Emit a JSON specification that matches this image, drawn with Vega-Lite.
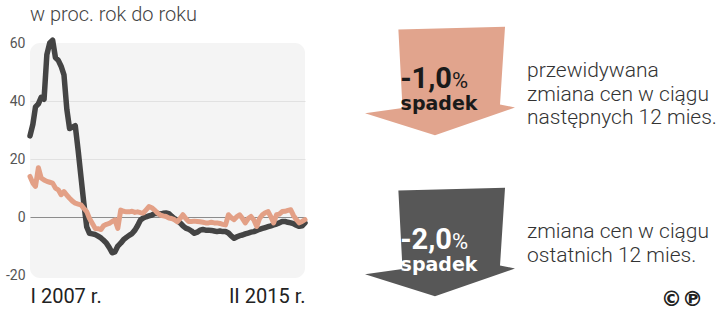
{
  "$schema": "https://vega.github.io/schema/vega-lite/v6.json",
  "background": "white",
  "padding": {"top": 5, "left": 0, "right": 0, "bottom": 0},
  "spacing": 0,
  "config": {"font": "Roboto", "view": {"stroke": null}},
  "hconcat": [
    {
      "width": 275,
      "height": 235,
      "view": {"fill": "#f4f4f4", "cornerRadius": 10, "stroke": null},
      "title": {"text": "w proc. rok do roku", "anchor": "start", "frame": "group", "fontSize": 20, "fontWeight": 300, "color": "#444444", "offset": 11, "font": "Roboto"},
      "data": {"values": [
        {"miesiac":"2007-01","seria":"ostatnie","wartosc":28},{"miesiac":"2007-02","seria":"ostatnie","wartosc":32},{"miesiac":"2007-03","seria":"ostatnie","wartosc":38},{"miesiac":"2007-04","seria":"ostatnie","wartosc":39},{"miesiac":"2007-05","seria":"ostatnie","wartosc":41.3},{"miesiac":"2007-06","seria":"ostatnie","wartosc":40.6},{"miesiac":"2007-07","seria":"ostatnie","wartosc":56},{"miesiac":"2007-08","seria":"ostatnie","wartosc":60},{"miesiac":"2007-09","seria":"ostatnie","wartosc":61},{"miesiac":"2007-10","seria":"ostatnie","wartosc":55},{"miesiac":"2007-11","seria":"ostatnie","wartosc":54},{"miesiac":"2007-12","seria":"ostatnie","wartosc":52},
        {"miesiac":"2008-01","seria":"ostatnie","wartosc":49},{"miesiac":"2008-02","seria":"ostatnie","wartosc":37},{"miesiac":"2008-03","seria":"ostatnie","wartosc":30.5},{"miesiac":"2008-04","seria":"ostatnie","wartosc":31},{"miesiac":"2008-05","seria":"ostatnie","wartosc":31.5},{"miesiac":"2008-06","seria":"ostatnie","wartosc":23},{"miesiac":"2008-07","seria":"ostatnie","wartosc":14},{"miesiac":"2008-08","seria":"ostatnie","wartosc":4.8},{"miesiac":"2008-09","seria":"ostatnie","wartosc":-3.4},{"miesiac":"2008-10","seria":"ostatnie","wartosc":-5.6},{"miesiac":"2008-11","seria":"ostatnie","wartosc":-5.8},{"miesiac":"2008-12","seria":"ostatnie","wartosc":-6},
        {"miesiac":"2009-01","seria":"ostatnie","wartosc":-6.6},{"miesiac":"2009-02","seria":"ostatnie","wartosc":-7.2},{"miesiac":"2009-03","seria":"ostatnie","wartosc":-8},{"miesiac":"2009-04","seria":"ostatnie","wartosc":-9},{"miesiac":"2009-05","seria":"ostatnie","wartosc":-10.5},{"miesiac":"2009-06","seria":"ostatnie","wartosc":-12.3},{"miesiac":"2009-07","seria":"ostatnie","wartosc":-12},{"miesiac":"2009-08","seria":"ostatnie","wartosc":-10},{"miesiac":"2009-09","seria":"ostatnie","wartosc":-9},{"miesiac":"2009-10","seria":"ostatnie","wartosc":-7.8},{"miesiac":"2009-11","seria":"ostatnie","wartosc":-7},{"miesiac":"2009-12","seria":"ostatnie","wartosc":-6.3},
        {"miesiac":"2010-01","seria":"ostatnie","wartosc":-5.7},{"miesiac":"2010-02","seria":"ostatnie","wartosc":-4.5},{"miesiac":"2010-03","seria":"ostatnie","wartosc":-3},{"miesiac":"2010-04","seria":"ostatnie","wartosc":-1},{"miesiac":"2010-05","seria":"ostatnie","wartosc":-0.3},{"miesiac":"2010-06","seria":"ostatnie","wartosc":0.1},{"miesiac":"2010-07","seria":"ostatnie","wartosc":0.4},{"miesiac":"2010-08","seria":"ostatnie","wartosc":0.7},{"miesiac":"2010-09","seria":"ostatnie","wartosc":1.2},{"miesiac":"2010-10","seria":"ostatnie","wartosc":1.3},{"miesiac":"2010-11","seria":"ostatnie","wartosc":1.0},{"miesiac":"2010-12","seria":"ostatnie","wartosc":1.3},
        {"miesiac":"2011-01","seria":"ostatnie","wartosc":1.4},{"miesiac":"2011-02","seria":"ostatnie","wartosc":1.2},{"miesiac":"2011-03","seria":"ostatnie","wartosc":0.3},{"miesiac":"2011-04","seria":"ostatnie","wartosc":-0.5},{"miesiac":"2011-05","seria":"ostatnie","wartosc":-1.2},{"miesiac":"2011-06","seria":"ostatnie","wartosc":-2},{"miesiac":"2011-07","seria":"ostatnie","wartosc":-3},{"miesiac":"2011-08","seria":"ostatnie","wartosc":-3.8},{"miesiac":"2011-09","seria":"ostatnie","wartosc":-4.2},{"miesiac":"2011-10","seria":"ostatnie","wartosc":-4.8},{"miesiac":"2011-11","seria":"ostatnie","wartosc":-5.6},{"miesiac":"2011-12","seria":"ostatnie","wartosc":-5.2},
        {"miesiac":"2012-01","seria":"ostatnie","wartosc":-4.5},{"miesiac":"2012-02","seria":"ostatnie","wartosc":-4.3},{"miesiac":"2012-03","seria":"ostatnie","wartosc":-4.5},{"miesiac":"2012-04","seria":"ostatnie","wartosc":-4.5},{"miesiac":"2012-05","seria":"ostatnie","wartosc":-4.6},{"miesiac":"2012-06","seria":"ostatnie","wartosc":-4.8},{"miesiac":"2012-07","seria":"ostatnie","wartosc":-5},{"miesiac":"2012-08","seria":"ostatnie","wartosc":-4.8},{"miesiac":"2012-09","seria":"ostatnie","wartosc":-5},{"miesiac":"2012-10","seria":"ostatnie","wartosc":-5},{"miesiac":"2012-11","seria":"ostatnie","wartosc":-5.5},{"miesiac":"2012-12","seria":"ostatnie","wartosc":-6.5},
        {"miesiac":"2013-01","seria":"ostatnie","wartosc":-7.3},{"miesiac":"2013-02","seria":"ostatnie","wartosc":-6.8},{"miesiac":"2013-03","seria":"ostatnie","wartosc":-6.4},{"miesiac":"2013-04","seria":"ostatnie","wartosc":-6.2},{"miesiac":"2013-05","seria":"ostatnie","wartosc":-5.8},{"miesiac":"2013-06","seria":"ostatnie","wartosc":-5.5},{"miesiac":"2013-07","seria":"ostatnie","wartosc":-5.2},{"miesiac":"2013-08","seria":"ostatnie","wartosc":-5},{"miesiac":"2013-09","seria":"ostatnie","wartosc":-4.6},{"miesiac":"2013-10","seria":"ostatnie","wartosc":-4.2},{"miesiac":"2013-11","seria":"ostatnie","wartosc":-3.9},{"miesiac":"2013-12","seria":"ostatnie","wartosc":-3.6},
        {"miesiac":"2014-01","seria":"ostatnie","wartosc":-3.3},{"miesiac":"2014-02","seria":"ostatnie","wartosc":-3},{"miesiac":"2014-03","seria":"ostatnie","wartosc":-2.7},{"miesiac":"2014-04","seria":"ostatnie","wartosc":-2.4},{"miesiac":"2014-05","seria":"ostatnie","wartosc":-2},{"miesiac":"2014-06","seria":"ostatnie","wartosc":-1.5},{"miesiac":"2014-07","seria":"ostatnie","wartosc":-1.5},{"miesiac":"2014-08","seria":"ostatnie","wartosc":-1.8},{"miesiac":"2014-09","seria":"ostatnie","wartosc":-2},{"miesiac":"2014-10","seria":"ostatnie","wartosc":-2.3},{"miesiac":"2014-11","seria":"ostatnie","wartosc":-2.8},{"miesiac":"2014-12","seria":"ostatnie","wartosc":-3.2},
        {"miesiac":"2015-01","seria":"ostatnie","wartosc":-3},{"miesiac":"2015-02","seria":"ostatnie","wartosc":-2},
        {"miesiac":"2007-01","seria":"prognoza","wartosc":14},{"miesiac":"2007-02","seria":"prognoza","wartosc":11.7},{"miesiac":"2007-03","seria":"prognoza","wartosc":10.6},{"miesiac":"2007-04","seria":"prognoza","wartosc":17},{"miesiac":"2007-05","seria":"prognoza","wartosc":13.5},{"miesiac":"2007-06","seria":"prognoza","wartosc":12.8},{"miesiac":"2007-07","seria":"prognoza","wartosc":12.3},{"miesiac":"2007-08","seria":"prognoza","wartosc":12},{"miesiac":"2007-09","seria":"prognoza","wartosc":11.7},{"miesiac":"2007-10","seria":"prognoza","wartosc":10},{"miesiac":"2007-11","seria":"prognoza","wartosc":9.4},{"miesiac":"2007-12","seria":"prognoza","wartosc":7.7},
        {"miesiac":"2008-01","seria":"prognoza","wartosc":8.8},{"miesiac":"2008-02","seria":"prognoza","wartosc":7.5},{"miesiac":"2008-03","seria":"prognoza","wartosc":6.5},{"miesiac":"2008-04","seria":"prognoza","wartosc":5.5},{"miesiac":"2008-05","seria":"prognoza","wartosc":4.8},{"miesiac":"2008-06","seria":"prognoza","wartosc":4.5},{"miesiac":"2008-07","seria":"prognoza","wartosc":4.2},{"miesiac":"2008-08","seria":"prognoza","wartosc":3},{"miesiac":"2008-09","seria":"prognoza","wartosc":1.9},{"miesiac":"2008-10","seria":"prognoza","wartosc":-0.5},{"miesiac":"2008-11","seria":"prognoza","wartosc":-2.2},{"miesiac":"2008-12","seria":"prognoza","wartosc":-3.9},
        {"miesiac":"2009-01","seria":"prognoza","wartosc":-4},{"miesiac":"2009-02","seria":"prognoza","wartosc":-4.3},{"miesiac":"2009-03","seria":"prognoza","wartosc":-3},{"miesiac":"2009-04","seria":"prognoza","wartosc":-2.5},{"miesiac":"2009-05","seria":"prognoza","wartosc":-2.2},{"miesiac":"2009-06","seria":"prognoza","wartosc":-1.5},{"miesiac":"2009-07","seria":"prognoza","wartosc":-1},{"miesiac":"2009-08","seria":"prognoza","wartosc":-3.9},{"miesiac":"2009-09","seria":"prognoza","wartosc":2.4},{"miesiac":"2009-10","seria":"prognoza","wartosc":2},{"miesiac":"2009-11","seria":"prognoza","wartosc":1.8},{"miesiac":"2009-12","seria":"prognoza","wartosc":1.8},
        {"miesiac":"2010-01","seria":"prognoza","wartosc":2},{"miesiac":"2010-02","seria":"prognoza","wartosc":1.6},{"miesiac":"2010-03","seria":"prognoza","wartosc":1.8},{"miesiac":"2010-04","seria":"prognoza","wartosc":1.5},{"miesiac":"2010-05","seria":"prognoza","wartosc":1.4},{"miesiac":"2010-06","seria":"prognoza","wartosc":2.5},{"miesiac":"2010-07","seria":"prognoza","wartosc":3.6},{"miesiac":"2010-08","seria":"prognoza","wartosc":3.2},{"miesiac":"2010-09","seria":"prognoza","wartosc":2.4},{"miesiac":"2010-10","seria":"prognoza","wartosc":1.4},{"miesiac":"2010-11","seria":"prognoza","wartosc":0.7},{"miesiac":"2010-12","seria":"prognoza","wartosc":0.4},
        {"miesiac":"2011-01","seria":"prognoza","wartosc":0.2},{"miesiac":"2011-02","seria":"prognoza","wartosc":-0.3},{"miesiac":"2011-03","seria":"prognoza","wartosc":-0.5},{"miesiac":"2011-04","seria":"prognoza","wartosc":-0.9},{"miesiac":"2011-05","seria":"prognoza","wartosc":-1.6},{"miesiac":"2011-06","seria":"prognoza","wartosc":-0.5},{"miesiac":"2011-07","seria":"prognoza","wartosc":0.8},{"miesiac":"2011-08","seria":"prognoza","wartosc":-0.5},{"miesiac":"2011-09","seria":"prognoza","wartosc":-1.5},{"miesiac":"2011-10","seria":"prognoza","wartosc":-1.5},{"miesiac":"2011-11","seria":"prognoza","wartosc":-1.4},{"miesiac":"2011-12","seria":"prognoza","wartosc":-1.5},
        {"miesiac":"2012-01","seria":"prognoza","wartosc":-1.6},{"miesiac":"2012-02","seria":"prognoza","wartosc":-1.8},{"miesiac":"2012-03","seria":"prognoza","wartosc":-2},{"miesiac":"2012-04","seria":"prognoza","wartosc":-2},{"miesiac":"2012-05","seria":"prognoza","wartosc":-1.8},{"miesiac":"2012-06","seria":"prognoza","wartosc":-2},{"miesiac":"2012-07","seria":"prognoza","wartosc":-2},{"miesiac":"2012-08","seria":"prognoza","wartosc":-2.2},{"miesiac":"2012-09","seria":"prognoza","wartosc":-2.5},{"miesiac":"2012-10","seria":"prognoza","wartosc":-2.7},{"miesiac":"2012-11","seria":"prognoza","wartosc":0.8},{"miesiac":"2012-12","seria":"prognoza","wartosc":-0.2},
        {"miesiac":"2013-01","seria":"prognoza","wartosc":-0.9},{"miesiac":"2013-02","seria":"prognoza","wartosc":0.2},{"miesiac":"2013-03","seria":"prognoza","wartosc":0.8},{"miesiac":"2013-04","seria":"prognoza","wartosc":-0.5},{"miesiac":"2013-05","seria":"prognoza","wartosc":-2},{"miesiac":"2013-06","seria":"prognoza","wartosc":-0.5},{"miesiac":"2013-07","seria":"prognoza","wartosc":0.2},{"miesiac":"2013-08","seria":"prognoza","wartosc":-1},{"miesiac":"2013-09","seria":"prognoza","wartosc":-3.2},{"miesiac":"2013-10","seria":"prognoza","wartosc":-0.5},{"miesiac":"2013-11","seria":"prognoza","wartosc":0.8},{"miesiac":"2013-12","seria":"prognoza","wartosc":1.5},
        {"miesiac":"2014-01","seria":"prognoza","wartosc":1.9},{"miesiac":"2014-02","seria":"prognoza","wartosc":0},{"miesiac":"2014-03","seria":"prognoza","wartosc":-2},{"miesiac":"2014-04","seria":"prognoza","wartosc":0.8},{"miesiac":"2014-05","seria":"prognoza","wartosc":1},{"miesiac":"2014-06","seria":"prognoza","wartosc":1.9},{"miesiac":"2014-07","seria":"prognoza","wartosc":2},{"miesiac":"2014-08","seria":"prognoza","wartosc":2.3},{"miesiac":"2014-09","seria":"prognoza","wartosc":2.5},{"miesiac":"2014-10","seria":"prognoza","wartosc":0.5},{"miesiac":"2014-11","seria":"prognoza","wartosc":-0.9},{"miesiac":"2014-12","seria":"prognoza","wartosc":-2},
        {"miesiac":"2015-01","seria":"prognoza","wartosc":-1.5},{"miesiac":"2015-02","seria":"prognoza","wartosc":-0.9}
      ]},
      "encoding": {
        "x": {
          "field": "miesiac", "type": "temporal",
          "scale": {"type": "utc", "domain": [{"year": 2007, "month": 1, "date": 1, "utc": true}, {"year": 2015, "month": 2, "date": 1, "utc": true}]},
          "axis": {
            "title": null, "domain": false, "ticks": false, "grid": false,
            "values": [{"year": 2007, "month": 1, "date": 1, "utc": true}, {"year": 2015, "month": 2, "date": 1, "utc": true}],
            "labelExpr": "utcyear(datum.value) == 2007 ? 'I 2007 r.' : 'II 2015 r.'",
            "labelFlush": true, "labelOverlap": false,
            "labelFontSize": 20, "labelColor": "#222222", "labelFont": "Roboto", "labelPadding": 8
          }
        },
        "y": {
          "field": "wartosc", "type": "quantitative",
          "scale": {"domain": [-21, 60], "nice": false, "zero": false},
          "axis": {
            "title": null, "domain": false, "ticks": false,
            "values": [-20, 0, 20, 40, 60],
            "labelExpr": "'' + datum.value",
            "labelFontSize": 14, "labelColor": "#555555", "labelFont": "Roboto", "labelPadding": 5,
            "minExtent": 30, "maxExtent": 30,
            "grid": true,
            "gridColor": {"condition": {"test": "datum.value === 0", "value": "#8c8c8c"}, "value": "#e1e1e1"},
            "gridOpacity": {"condition": {"test": "datum.value === -20 || datum.value === 60", "value": 0}, "value": 1},
            "gridWidth": 1
          }
        }
      },
      "layer": [
        {
          "transform": [{"filter": "datum.seria === 'ostatnie'"}],
          "mark": {"type": "line", "color": "#444444", "strokeWidth": 5.5, "strokeJoin": "round", "strokeCap": "round"}
        },
        {
          "transform": [{"filter": "datum.seria === 'prognoza'"}],
          "mark": {"type": "line", "color": "#e3a086", "strokeWidth": 5, "strokeJoin": "round", "strokeCap": "round"}
        }
      ]
    },
    {
      "width": 395,
      "height": 230,
      "view": {"fill": "#ffffff", "stroke": null},
      "title": {"text": "©℗", "orient": "bottom", "anchor": "end", "frame": "group", "fontSize": 21, "font": "DejaVu Sans", "fontWeight": "bold", "color": "#222222", "offset": -7},
      "data": {"values": [
        {"okres": "prognoza", "wartosc": "-1,0", "jednostka": "%", "kierunek": "spadek", "opis": "przewidywana\nzmiana cen w ciągu\nnastępnych 12 mies."},
        {"okres": "ostatnie", "wartosc": "-2,0", "jednostka": "%", "kierunek": "spadek", "opis": "zmiana cen w ciągu\nostatnich 12 mies."}
      ]},
      "encoding": {
        "y": {"field": "okres", "type": "nominal", "scale": {"type": "point", "padding": 0, "domain": ["prognoza", "ostatnie"], "range": [39, 200]}, "axis": null}
      },
      "layer": [
        {
          "mark": {"type": "point", "shape": "M-0.555,-0.7L0.867,-0.736L0.8,0.3L1,0.34L-0.067,0.71L-1,0.415L-0.5,0.345Z", "size": 22500, "filled": true, "opacity": 1, "strokeWidth": 0},
          "encoding": {
            "x": {"datum": "strzałka", "type": "nominal", "scale": {"type": "point", "padding": 0, "domain": ["strzałka", "opis"], "range": [132, 219]}, "axis": null},
            "color": {"field": "okres", "type": "nominal", "scale": {"domain": ["prognoza", "ostatnie"], "range": ["#e1a48d", "#575757"]}, "legend": null}
          }
        },
        {
          "mark": {"type": "text", "align": "right", "baseline": "alphabetic", "dx": 12, "dy": 6, "fontSize": 29, "fontWeight": "bold", "font": "Roboto"},
          "encoding": {
            "x": {"datum": "strzałka", "type": "nominal", "axis": null},
            "text": {"field": "wartosc"},
            "color": {"condition": {"test": "datum.okres === 'prognoza'", "value": "#1a1a1a"}, "value": "#ffffff"}
          }
        },
        {
          "mark": {"type": "text", "align": "left", "baseline": "alphabetic", "dx": 12, "dy": 6, "fontSize": 22, "fontWeight": "normal", "font": "Roboto"},
          "encoding": {
            "x": {"datum": "strzałka", "type": "nominal", "axis": null},
            "text": {"field": "jednostka"},
            "color": {"condition": {"test": "datum.okres === 'prognoza'", "value": "#1a1a1a"}, "value": "#ffffff"}
          }
        },
        {
          "mark": {"type": "text", "align": "center", "baseline": "alphabetic", "dx": -1, "dy": 28, "fontSize": 19, "fontWeight": "bold", "font": "DejaVu Sans"},
          "encoding": {
            "x": {"datum": "strzałka", "type": "nominal", "axis": null},
            "text": {"field": "kierunek"},
            "color": {"condition": {"test": "datum.okres === 'prognoza'", "value": "#1a1a1a"}, "value": "#ffffff"}
          }
        },
        {
          "mark": {"type": "text", "align": "left", "baseline": "alphabetic", "dy": -5, "fontSize": 21, "fontWeight": 300, "font": "Roboto", "lineBreak": "\n", "lineHeight": 23.5, "color": "#333333"},
          "encoding": {
            "x": {"datum": "opis", "type": "nominal", "axis": null},
            "text": {"field": "opis"}
          }
        }
      ]
    }
  ]
}
